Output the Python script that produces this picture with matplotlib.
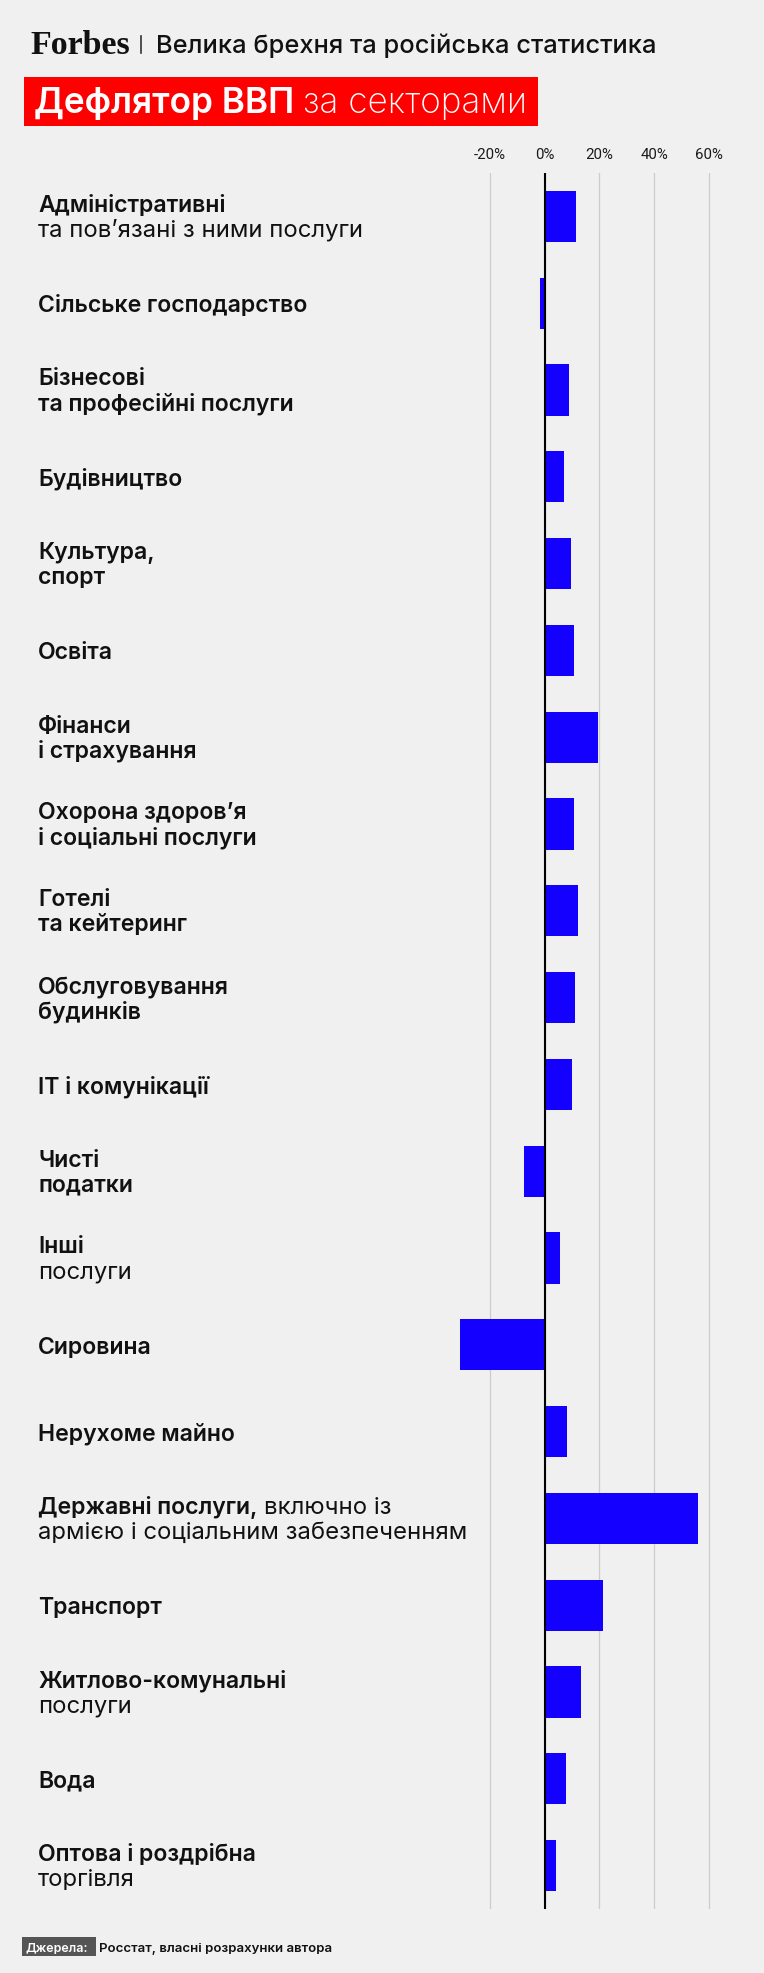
import matplotlib
matplotlib.use("Agg")
import matplotlib.pyplot as plt
from matplotlib import transforms as mtrans
from matplotlib.patches import Rectangle
from matplotlib.lines import Line2D

# ---------------- data ----------------
labels_bold = [
    "Адміністративні",
    "Сільське господарство",
    "Бізнесові\nта професійні послуги",
    "Будівництво",
    "Культура,\nспорт",
    "Освіта",
    "Фінанси\nі страхування",
    "Охорона здоров’я\nі соціальні послуги",
    "Готелі\nта кейтеринг",
    "Обслуговування\nбудинків",
    "IT і комунікації",
    "Чисті\nподатки",
    "Інші",
    "Сировина",
    "Нерухоме майно",
    "Державні послуги,",
    "Транспорт",
    "Житлово-комунальні",
    "Вода",
    "Оптова і роздрібна",
]
labels_regular = [
    "та пов’язані з ними послуги", "", "", "", "", "", "", "", "", "", "",
    "", "послуги", "", "", " включно із\nармією і соціальним забезпеченням",
    "", "послуги", "", "торгівля",
]
values = [11.6, -1.8, 9.1, 7.2, 9.6, 10.8, 19.7, 10.6, 12.4, 11.2, 10.1,
          -7.3, 5.7, -30.9, 8.3, 56.1, 21.2, 13.3, 7.7, 4.3]
tick_values = [-20, 0, 20, 40, 60]
tick_labels = ["-20%", "0%", "20%", "40%", "60%"]

header_brand = "Forbes"
header_title = "Велика брехня та російська статистика"
title_bold = "Дефлятор ВВП"
title_regular = "за секторами"
source_label = "Джерела:"
source_text = "Росстат, власні розрахунки автора"

# ---------------- style ----------------
BG = "#f0f0f0"
BAR = "#1400ff"
RED = "#ff0000"
FONT = ["Inter", "DejaVu Sans"]
W, H, DPI = 764, 1974, 100

fig = plt.figure(figsize=(W / DPI, H / DPI), dpi=DPI, facecolor=BG)


def fx(x):
    return x / W


def fy(y):
    return 1 - y / H


AX_L, AX_R, AX_T, AX_B = 440, 740, 174, 1910
ZERO_PX, PX_PER_PCT = 544.5, 2.74
ax = fig.add_axes([fx(AX_L), fy(AX_B), (AX_R - AX_L) / W, (AX_B - AX_T) / H])
ax.set_facecolor("none")
ax.set_xlim((AX_L - ZERO_PX) / PX_PER_PCT, (AX_R - ZERO_PX) / PX_PER_PCT)
n = len(values)
ax.set_ylim(n - 0.5, -0.5)
ax.barh(range(n), values, height=0.59, color=BAR, zorder=2)
ax.axvline(0, color="black", lw=1.5, zorder=3)
ax.set_xticks(tick_values)
ax.set_xticklabels(tick_labels, family=["Roboto", "DejaVu Sans"])
ax.grid(axis="x", color="#cccccc", lw=0.9, zorder=0)
ax.set_axisbelow(True)
ax.tick_params(axis="x", top=True, bottom=False, labeltop=True,
               labelbottom=False, length=0, pad=8.6, labelsize=10.8,
               colors="#1a1a1a")
ax.set_yticks([])
for s in ax.spines.values():
    s.set_visible(False)

renderer = fig.canvas.get_renderer()
trans = mtrans.blended_transform_factory(fig.transFigure, ax.transData)
S = (AX_B - AX_T) / n
LX = 38
LS = 25.0   # line spacing px
FSB = 16.6  # bold pt
FSR = 17.2  # regular pt

for i in range(n):
    b_lines = labels_bold[i].split("\n")
    r = labels_regular[i]
    inline = r.startswith(" ")
    r_lines = r.strip().split("\n") if r.strip() else []
    total = len(b_lines) + len(r_lines) - (1 if inline else 0)
    if total == 1:
        offs = [8.0]
    else:
        start = -5.5 - (total - 2) * LS / 2
        offs = [start + k * LS for k in range(total)]
    k = 0
    last_bold = None
    for bl in b_lines:
        last_bold = fig.text(fx(LX), i + offs[k] / S, bl, transform=trans,
                             fontsize=FSB, fontweight="semibold", family=FONT,
                             color="#111111", va="baseline", ha="left")
        k += 1
    for j, rl in enumerate(r_lines):
        if inline and j == 0:
            ext = last_bold.get_window_extent(renderer)
            fig.text(fx(ext.x1 + 7), i + offs[k - 1] / S, rl, transform=trans,
                     fontsize=FSR, fontweight="normal", family=FONT,
                     color="#111111", va="baseline", ha="left")
        else:
            fig.text(fx(LX), i + offs[k] / S, rl, transform=trans,
                     fontsize=FSR, fontweight="normal", family=FONT,
                     color="#111111", va="baseline", ha="left")
            k += 1

# ---------------- header ----------------
fig.text(fx(30), fy(53.5), header_brand, fontsize=24.5, fontweight="bold",
         family=["Liberation Serif", "DejaVu Serif"], color="#111111",
         va="baseline", ha="left")
fig.add_artist(Line2D([fx(141), fx(141)], [fy(37), fy(54)], color="#333333",
                      lw=1.2, transform=fig.transFigure))
fig.text(fx(156), fy(53.5), header_title, fontsize=18.3, fontweight="medium",
         family=FONT, color="#111111", va="baseline", ha="left")

# red title box
fig.add_artist(Rectangle((fx(24), fy(127)), (538 - 24) / W, 49 / H,
                         transform=fig.transFigure, facecolor=RED,
                         edgecolor="none"))
tb = fig.text(fx(34), fy(113), title_bold, fontsize=25.3, fontweight="semibold",
              family=FONT, color="white", va="baseline", ha="left")
ext = tb.get_window_extent(renderer)
fig.text(fx(ext.x1 + 9), fy(113), title_regular, fontsize=25.3,
         fontweight="light", family=FONT, color="white", va="baseline",
         ha="left")

# ---------------- footer ----------------
fig.add_artist(Rectangle((fx(22), fy(1957)), (95.5 - 22) / W, 19 / H,
                         transform=fig.transFigure, facecolor="#555555",
                         edgecolor="none"))
fig.text(fx(26), fy(1952), source_label, fontsize=9, fontweight="semibold",
         family=FONT, color="white", va="baseline", ha="left")
fig.text(fx(99), fy(1952), source_text, fontsize=9.5, fontweight="semibold",
         family=FONT, color="#111111", va="baseline", ha="left")

fig.savefig("out.png", dpi=DPI, facecolor=BG)
